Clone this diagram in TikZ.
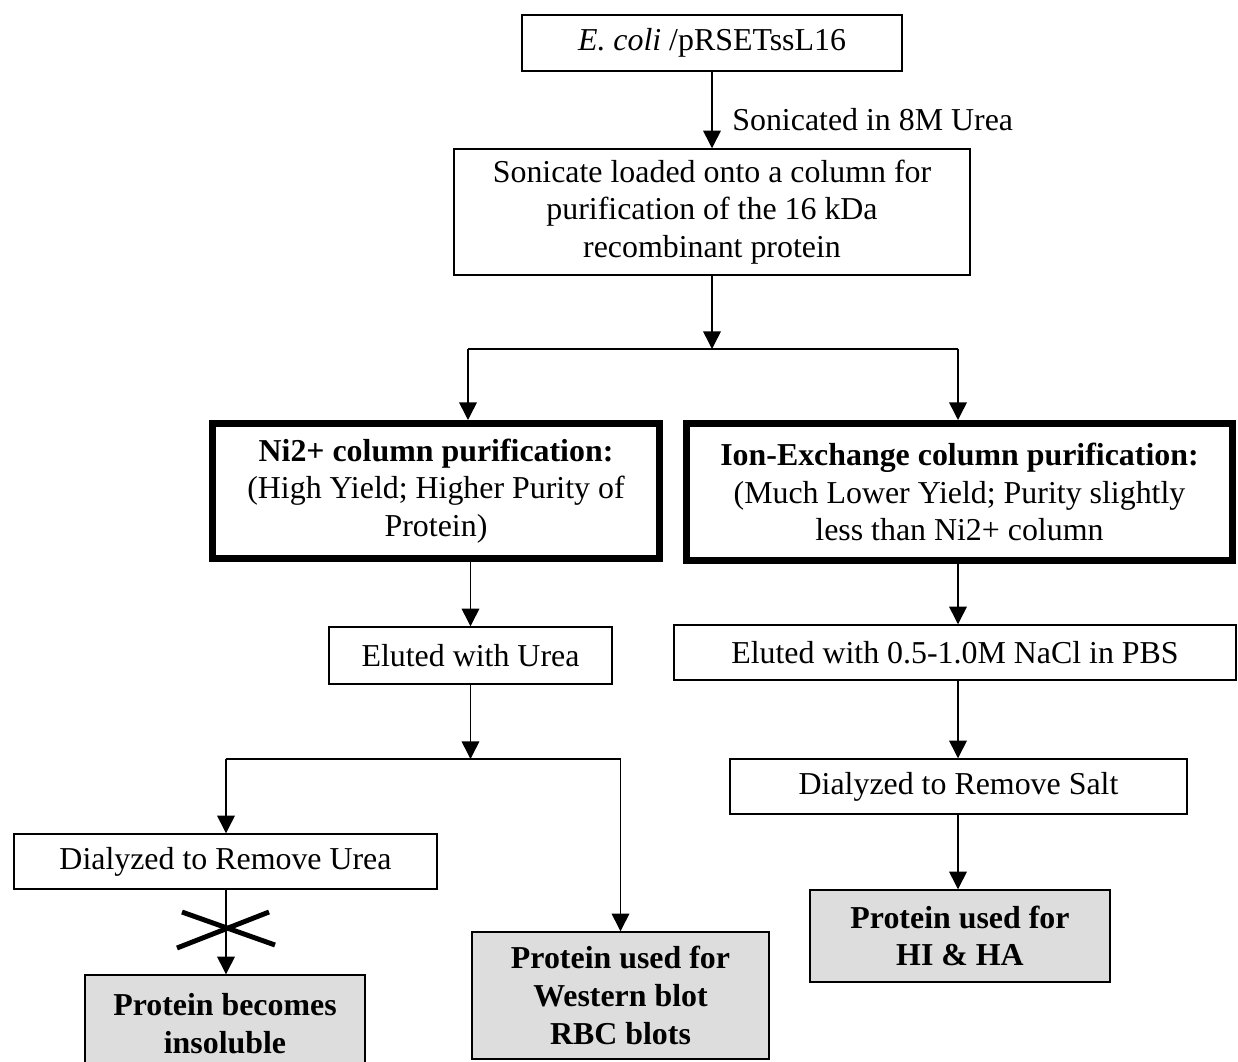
\documentclass[tikz,border=0pt]{standalone}
\usepackage{fontspec}
\setmainfont{Liberation Serif}
\usepackage{tikz}
\usetikzlibrary{calc,arrows.meta}

\tikzset{
    kasten/.style={draw, line width=0.85pt, align=center, inner sep=0pt,
        font=\fontsize{18.15}{21.5}\selectfont},
    dickkasten/.style={kasten, line width=4pt},
    grau/.style={kasten, fill=black!13.5},
    pfeil/.style={line width=0.85pt, -{Triangle[length=10pt,width=10pt]}},
    linie/.style={line width=0.85pt}
}

\begin{document}
\begin{tikzpicture}[x=0.02cm, y=-0.02cm]
    % Rahmen des Bildes
    \useasboundingbox (0,0) rectangle (1238,1062);
    \clip (0,0) rectangle (1238,1062);

    % Kaesten oben
    \node[kasten, minimum width=7.6cm, minimum height=1.12cm] (ecoli) at (712,43) {\textit{E. coli} /pRSETssL16};
    \node[kasten, minimum width=10.32cm, minimum height=2.52cm] (sonic) at (712,212)
        {Sonicate loaded onto a column for\\purification of the 16 kDa\\recombinant protein};
    \node[anchor=west, inner sep=0pt, font=\fontsize{18.15}{21}\selectfont] (beschr) at (732,120) {Sonicated in 8M Urea};

    % Saeulen
    \node[dickkasten, minimum width=8.94cm, minimum height=2.7cm] (ni) at (436,491)
        {\textbf{Ni2+ column purification:}\\(High Yield; Higher Purity of\\Protein)};
    \node[dickkasten, minimum width=10.92cm, minimum height=2.74cm] (ion) at (959.5,492)
        {\textbf{Ion-Exchange column purification:}\\(Much Lower Yield; Purity slightly\\less than Ni2+ column};

    % Elution und Dialyse
    \node[kasten, minimum width=5.66cm, minimum height=1.14cm] (elurea) at (470.5,655.5) {Eluted with Urea};
    \node[kasten, minimum width=11.24cm, minimum height=1.1cm] (elnacl) at (955,652.5) {Eluted with 0.5-1.0M NaCl in PBS};
    \node[kasten, minimum width=8.46cm, minimum height=1.1cm] (dialurea) at (225.5,861.5) {Dialyzed to Remove Urea};
    \node[kasten, minimum width=9.14cm, minimum height=1.1cm] (dialsalt) at (958.5,786.5) {Dialyzed to Remove Salt};

    % Ergebnisse
    \node[grau, minimum width=5.6cm, minimum height=1.96cm] (insol) at (225,1024)
        {\textbf{Protein becomes}\\\textbf{insoluble}};
    \node[grau, minimum width=5.94cm, minimum height=2.54cm] (western) at (620.5,995.5)
        {\textbf{Protein used for}\\\textbf{Western blot}\\\textbf{RBC blots}};
    \node[grau, minimum width=6cm, minimum height=1.84cm] (hiha) at (960,936)
        {\textbf{Protein used for}\\\textbf{HI \& HA}};

    % Verzweigungspunkte
    \coordinate (mitte1) at (712,349);
    \coordinate (links1) at (468,349);
    \coordinate (rechts1) at (958,349);
    \coordinate (mitte2) at (470.5,759);
    \coordinate (links2) at (226,759);
    \coordinate (rechts2) at (620.5,759);

    % Pfeile oben
    \draw[pfeil] (ecoli) -- (ecoli |- sonic.north);
    \draw[pfeil] (sonic) -- (mitte1);
    \draw[linie] (links1) -- (rechts1);
    \draw[pfeil] (links1) -- (links1 |- ni.north);
    \draw[pfeil] (rechts1) -- (rechts1 |- ion.north);

    % linker Zweig
    \draw[pfeil] (elurea.north |- ni.south) -- (elurea.north);
    \draw[pfeil] (elurea) -- (mitte2);
    \draw[linie] (links2) -- (rechts2);
    \draw[pfeil] (links2) -- (links2 |- dialurea.north);
    \draw[pfeil] (rechts2) -- (rechts2 |- western.north);
    \draw[pfeil] (dialurea.south -| links2) -- (links2 |- insol.north);

    % Kreuz
    \draw[line width=2.8pt] (182,912) -- (275,945);
    \draw[line width=2.8pt] (177,948) -- (269,912);

    % rechter Zweig
    \draw[pfeil] (ion.south -| rechts1) -- (rechts1 |- elnacl.north);
    \draw[pfeil] (elnacl.south -| rechts1) -- (rechts1 |- dialsalt.north);
    \draw[pfeil] (dialsalt.south -| rechts1) -- (rechts1 |- hiha.north);
\end{tikzpicture}
\end{document}
